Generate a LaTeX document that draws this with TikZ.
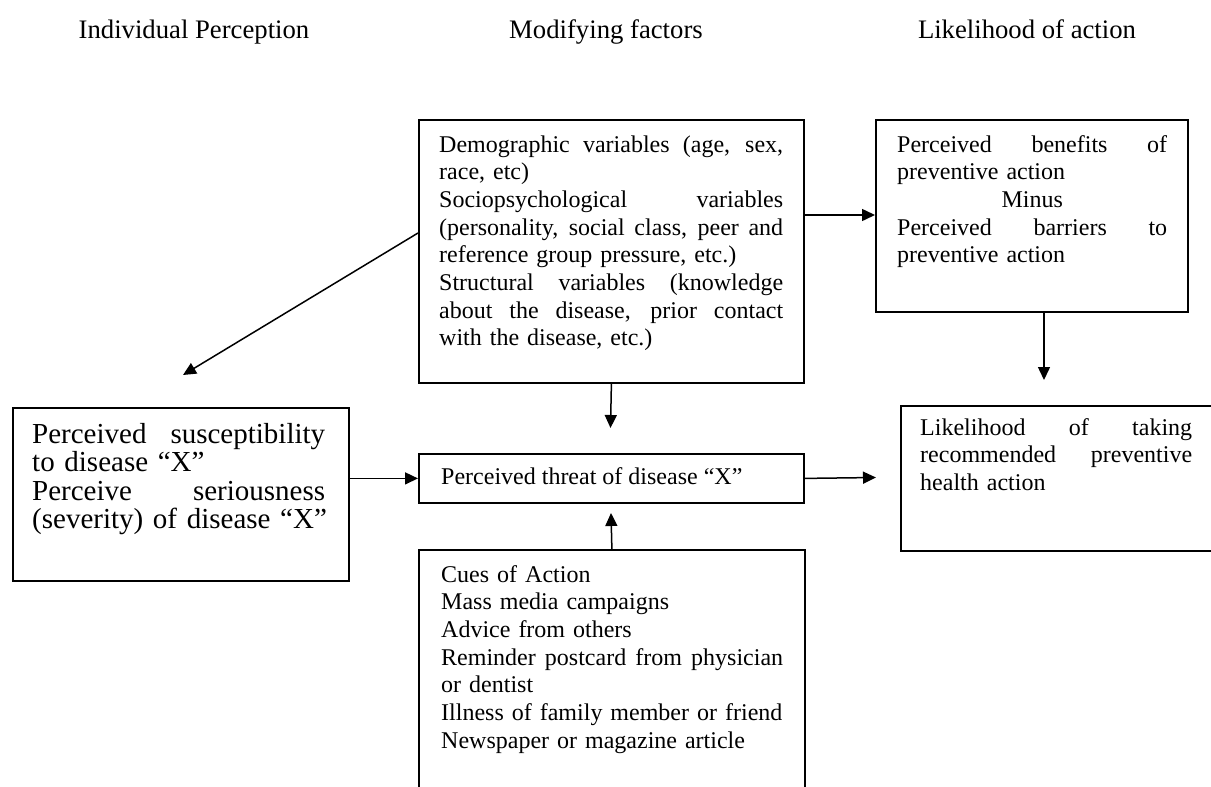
\documentclass[tikz,border=0pt]{standalone}
\usepackage{fontspec}
\setmainfont{Liberation Serif}
\usetikzlibrary{arrows.meta}
% a line of text stretched to the full width of its box
\newcommand{\jline}[1]{\leavevmode\hbox to\hsize{\spaceskip=0.25em plus 1fil\xspaceskip=0.25em plus 1fil\relax#1}}
% a line of text centred in its box
\newcommand{\midline}[1]{\leavevmode\hbox to\hsize{\hfil#1\hfil}}
\begin{document}
\begin{tikzpicture}[x=1pt,y=-1pt,
  frame/.style={draw=black,line width=1.8pt,fill=none,inner sep=0pt,anchor=north west},
  body/.style={inner sep=0pt,anchor=base west,align=left,font=\fontsize{24}{27.7}\selectfont},
  bigbody/.style={inner sep=0pt,anchor=base west,align=left,font=\fontsize{29}{28.5}\selectfont},
  head/.style={inner sep=0pt,anchor=base,font=\fontsize{26.7}{30}\selectfont},
  arr/.style={line width=1.5pt,-{Triangle[length=13pt,width=12pt]}}]
\useasboundingbox (0,0) rectangle (1211,787);
\fill[white] (0,0) rectangle (1211,787);
\clip (0,0) rectangle (1211,787);

% column headings
\node[head] (h1) at (194,38) {Individual Perception};
\node[head] (h2) at (606,38) {Modifying factors};
\node[head] (h3) at (1027,38) {Likelihood of action};

% boxes
\node[frame,minimum width=385pt,minimum height=263pt] (demo) at (418,119) {};
\node[frame,minimum width=312pt,minimum height=192pt] (ben) at (875,119) {};
\node[frame,minimum width=336pt,minimum height=173pt] (left) at (12,407) {};
\node[frame,minimum width=385pt,minimum height=49pt] (threat) at (418,453) {};
\node[frame,minimum width=312pt,minimum height=145pt] (like) at (900,405) {};
\node[frame,minimum width=386pt,minimum height=260pt] (cues) at (418,549) {};

% box texts
\node[body,text width=344pt] (demotext) at (439,152) {%
\jline{Demographic variables (age, sex,}\\
race, etc)\\
\jline{Sociopsychological variables}\\
\jline{(personality, social class, peer and}\\
reference group pressure, etc.)\\
\jline{Structural variables (knowledge}\\
\jline{about the disease, prior contact}\\
with the disease, etc.)};

\node[body,text width=270pt] (bentext) at (897,152) {%
\jline{Perceived benefits of}\\
preventive action\\
\midline{Minus}\\
\jline{Perceived barriers to}\\
preventive action};

\node[bigbody,text width=293pt] (lefttext) at (32,443) {%
\jline{Perceived susceptibility}\\
to disease “X”\\
\jline{Perceive seriousness}\\
\mbox{(severity) of disease “X”}};

\node[body] (threattext) at (441,484) {Perceived threat of disease “X”};

\node[body,text width=272pt] (liketext) at (920,435) {%
\jline{Likelihood of taking}\\
\jline{recommended preventive}\\
health action};

\node[body,text width=342pt] (cuestext) at (441,582) {%
Cues of Action\\
Mass media campaigns\\
Advice from others\\
\jline{Reminder postcard from physician}\\
or dentist\\
Illness of family member or friend\\
Newspaper or magazine article};

% free arrow ends
\coordinate (diagend) at (183,375);
\coordinate (demoend) at (610.5,428);
\coordinate (benend) at (1044,380);
\coordinate (threatend) at (876,477.5);
\coordinate (cuesend) at (611,513);

% connectors
\draw[arr] ([yshift=-114pt]demo.north west) -- (diagend);
\draw[arr] ([yshift=-96pt]demo.north east) -- ([yshift=-96pt]ben.north west);
\draw[arr] (demo.south) -- (demoend);
\draw[arr] (ben.south -| benend) -- (benend);
\draw[arr] (left.east |- threat.west) -- (threat.west);
\draw[arr] (threat.east) -- (threatend);
\draw[arr] (cues.north) -- (cuesend);
\end{tikzpicture}
\end{document}
